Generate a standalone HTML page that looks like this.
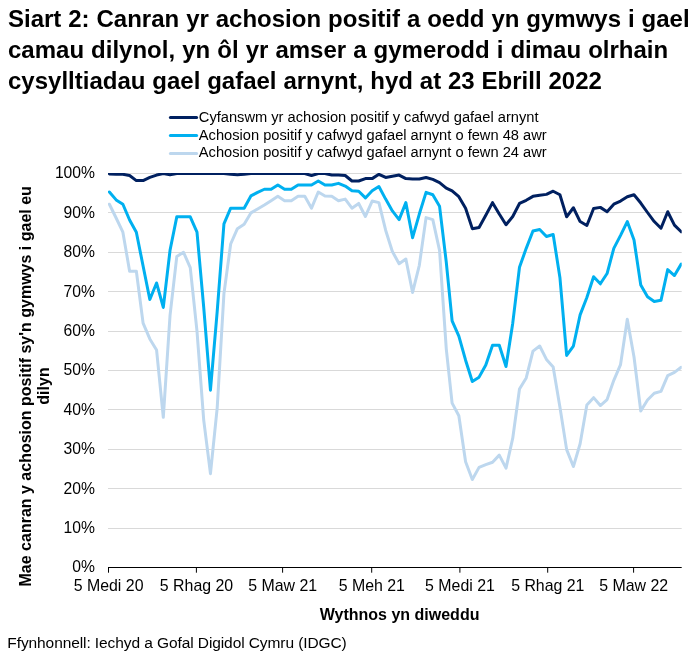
<!DOCTYPE html>
<html><head><meta charset="utf-8"><title>Siart 2</title>
<style>
html,body{margin:0;padding:0;background:#fff}
body{width:699px;height:660px;overflow:hidden;position:relative;font-family:"Liberation Sans",sans-serif;color:#000}
svg{position:absolute;left:0;top:0}
text{font-family:"Liberation Sans",sans-serif;fill:#000}
.t{font-size:24px;font-weight:bold}
.ax{font-size:15.7px}
.lg{font-size:14.67px}
.b{font-size:16px;font-weight:bold}
.src{font-size:15.5px;letter-spacing:-0.09px}
</style></head><body>
<svg width="699" height="660" viewBox="0 0 699 660">
<defs><clipPath id="c"><rect x="108" y="173" width="573.7" height="400"/></clipPath></defs>
<text x="8" y="26.6" class="t" style="word-spacing:0.25px">Siart 2: Canran yr achosion positif a oedd yn gymwys i gael</text>
<text x="8" y="57.6" class="t" style="word-spacing:0.4px">camau dilynol, yn ôl yr amser a gymerodd i dimau olrhain</text>
<text x="8" y="88.6" class="t" style="word-spacing:0.2px">cysylltiadau gael gafael arnynt, hyd at 23 Ebrill 2022</text>
<line x1="170.4" x2="196.6" y1="117.5" y2="117.5" stroke="#002060" stroke-width="3" stroke-linecap="round"/>
<line x1="170.4" x2="196.6" y1="135.5" y2="135.5" stroke="#00b0f0" stroke-width="3" stroke-linecap="round"/>
<line x1="170.4" x2="196.6" y1="153.4" y2="153.4" stroke="#bdd7ee" stroke-width="3" stroke-linecap="round"/>
<text x="198.8" y="121.5" class="lg">Cyfanswm yr achosion positif y cafwyd gafael arnynt</text>
<text x="198.8" y="139.8" class="lg">Achosion positif y cafwyd gafael arnynt o fewn 48 awr</text>
<text x="198.8" y="156.5" class="lg">Achosion positif y cafwyd gafael arnynt o fewn 24 awr</text>
<line x1="108" x2="681.7" y1="528.5" y2="528.5" stroke="#d9d9d9" stroke-width="1"/><line x1="108" x2="681.7" y1="488.5" y2="488.5" stroke="#d9d9d9" stroke-width="1"/><line x1="108" x2="681.7" y1="449.5" y2="449.5" stroke="#d9d9d9" stroke-width="1"/><line x1="108" x2="681.7" y1="409.5" y2="409.5" stroke="#d9d9d9" stroke-width="1"/><line x1="108" x2="681.7" y1="370.5" y2="370.5" stroke="#d9d9d9" stroke-width="1"/><line x1="108" x2="681.7" y1="331.5" y2="331.5" stroke="#d9d9d9" stroke-width="1"/><line x1="108" x2="681.7" y1="291.5" y2="291.5" stroke="#d9d9d9" stroke-width="1"/><line x1="108" x2="681.7" y1="252.5" y2="252.5" stroke="#d9d9d9" stroke-width="1"/><line x1="108" x2="681.7" y1="212.5" y2="212.5" stroke="#d9d9d9" stroke-width="1"/><line x1="108" x2="681.7" y1="173.5" y2="173.5" stroke="#d9d9d9" stroke-width="1"/>
<g clip-path="url(#c)" fill="none" stroke-width="3" stroke-linejoin="round" stroke-linecap="round">
<polyline stroke="#bdd7ee" points="109.40,204.22 116.14,218.01 122.88,232.19 129.61,271.19 136.35,271.19 143.09,323.18 149.83,338.94 156.56,349.97 163.30,417.32 170.04,315.30 176.78,256.61 183.51,252.28 190.25,267.64 196.99,331.06 203.72,420.08 210.46,473.65 217.20,407.87 223.94,293.64 230.67,244.01 237.41,228.65 244.15,224.31 250.89,212.89 257.62,208.95 264.36,205.01 271.10,200.68 277.84,196.35 284.57,200.68 291.31,200.68 298.05,196.35 304.79,196.35 311.52,208.16 318.26,192.01 325.00,195.95 331.74,196.35 338.47,200.68 345.21,199.10 351.95,208.16 358.69,203.44 365.42,216.44 372.16,201.07 378.90,202.65 385.64,230.22 392.37,251.49 399.11,263.70 405.85,258.98 412.59,292.46 419.32,265.28 426.06,217.62 432.80,219.59 439.54,250.31 446.27,348.79 452.11,403.14 458.85,415.75 465.59,461.83 472.32,479.56 479.06,467.35 485.80,464.59 492.54,462.23 499.27,455.14 506.01,468.14 512.75,438.20 519.49,388.96 526.22,377.93 532.96,351.15 539.70,346.03 546.44,359.42 553.17,366.90 559.91,407.08 566.65,449.62 573.39,466.56 580.12,443.72 586.86,405.11 593.60,397.63 600.34,405.51 607.08,399.60 613.81,380.30 620.55,364.54 627.29,319.24 634.02,357.06 640.76,411.02 647.50,399.99 654.24,393.30 660.98,391.33 667.71,375.57 674.45,372.42 681.19,367.30"/>
<polyline stroke="#00b0f0" points="109.40,192.01 116.14,199.89 122.88,204.22 129.61,219.98 136.35,232.19 143.09,266.07 149.83,299.55 156.56,283.00 163.30,307.43 170.04,250.31 176.78,216.83 183.51,216.83 190.25,216.83 196.99,232.19 203.72,307.43 210.46,390.14 217.20,311.36 223.94,223.92 230.67,208.16 237.41,208.16 244.15,208.16 250.89,195.95 257.62,192.41 264.36,189.26 271.10,189.26 277.84,184.92 284.57,189.26 291.31,189.26 298.05,184.92 304.79,184.92 311.52,184.92 318.26,180.98 325.00,184.92 331.74,184.92 338.47,183.35 345.21,186.10 351.95,190.83 358.69,191.23 365.42,197.92 372.16,190.83 378.90,186.50 385.64,199.10 392.37,210.92 399.11,219.59 405.85,202.65 412.59,237.71 419.32,214.07 426.06,192.41 432.80,194.77 439.54,206.19 446.27,262.13 452.11,320.82 458.85,336.18 465.59,360.21 472.32,381.48 479.06,377.15 485.80,364.94 492.54,345.24 499.27,345.24 506.01,366.51 512.75,323.18 519.49,267.25 526.22,248.34 532.96,231.01 539.70,229.43 546.44,236.52 553.17,234.55 559.91,277.49 566.65,355.48 573.39,346.03 580.12,314.91 586.86,297.58 593.60,276.70 600.34,283.79 607.08,273.55 613.81,248.34 620.55,235.34 627.29,221.56 634.02,240.07 640.76,284.97 647.50,296.79 654.24,301.52 660.98,300.34 667.71,269.61 674.45,275.52 681.19,264.10"/>
<polyline stroke="#002060" points="109.40,173.89 116.14,174.29 122.88,174.29 129.61,175.47 136.35,180.59 143.09,180.59 149.83,177.44 156.56,175.08 163.30,173.50 170.04,174.68 176.78,173.50 183.51,173.50 190.25,173.50 196.99,173.50 203.72,173.50 210.46,173.50 217.20,173.50 223.94,173.50 230.67,174.29 237.41,174.68 244.15,174.29 250.89,173.50 257.62,173.50 264.36,173.50 271.10,173.50 277.84,173.50 284.57,173.50 291.31,173.50 298.05,173.50 304.79,173.50 311.52,175.47 318.26,173.50 325.00,173.50 331.74,175.08 338.47,175.08 345.21,175.47 351.95,180.98 358.69,180.98 365.42,178.62 372.16,178.62 378.90,174.29 385.64,177.44 392.37,176.26 399.11,175.08 405.85,178.62 412.59,179.01 419.32,179.01 426.06,177.44 432.80,179.41 439.54,182.56 446.27,188.07 452.11,190.83 458.85,196.74 465.59,208.16 472.32,228.65 479.06,227.46 485.80,215.25 492.54,202.65 499.27,214.07 506.01,224.71 512.75,216.44 519.49,203.44 526.22,200.29 532.96,196.35 539.70,195.16 546.44,194.38 553.17,191.23 559.91,194.77 566.65,216.83 573.39,207.77 580.12,221.56 586.86,225.49 593.60,208.56 600.34,207.38 607.08,211.71 613.81,204.22 620.55,201.07 627.29,196.74 634.02,194.77 640.76,203.04 647.50,212.50 654.24,221.56 660.98,228.25 667.71,211.71 674.45,225.10 681.19,231.80"/>
</g>
<line x1="108" x2="681.7" y1="567.5" y2="567.5" stroke="#000" stroke-width="1.1"/>
<line x1="108.5" x2="108.5" y1="567.4" y2="572.7" stroke="#000" stroke-width="1"/><line x1="196.4" x2="196.4" y1="567.4" y2="572.7" stroke="#000" stroke-width="1"/><line x1="282.6" x2="282.6" y1="567.4" y2="572.7" stroke="#000" stroke-width="1"/><line x1="371.7" x2="371.7" y1="567.4" y2="572.7" stroke="#000" stroke-width="1"/><line x1="459.9" x2="459.9" y1="567.4" y2="572.7" stroke="#000" stroke-width="1"/><line x1="547.7" x2="547.7" y1="567.4" y2="572.7" stroke="#000" stroke-width="1"/><line x1="633.6" x2="633.6" y1="567.4" y2="572.7" stroke="#000" stroke-width="1"/>
<text x="95" y="572.30" text-anchor="end" class="ax">0%</text><text x="95" y="532.91" text-anchor="end" class="ax">10%</text><text x="95" y="493.52" text-anchor="end" class="ax">20%</text><text x="95" y="454.13" text-anchor="end" class="ax">30%</text><text x="95" y="414.74" text-anchor="end" class="ax">40%</text><text x="95" y="375.35" text-anchor="end" class="ax">50%</text><text x="95" y="335.96" text-anchor="end" class="ax">60%</text><text x="95" y="296.57" text-anchor="end" class="ax">70%</text><text x="95" y="257.18" text-anchor="end" class="ax">80%</text><text x="95" y="217.79" text-anchor="end" class="ax">90%</text><text x="95" y="178.40" text-anchor="end" class="ax">100%</text>
<text x="108.6" y="590.7" text-anchor="middle" class="ax" style="font-size:15.9px">5 Medi 20</text><text x="196.5" y="590.7" text-anchor="middle" class="ax" style="font-size:15.9px">5 Rhag 20</text><text x="282.70000000000005" y="590.7" text-anchor="middle" class="ax" style="font-size:15.9px">5 Maw 21</text><text x="371.8" y="590.7" text-anchor="middle" class="ax" style="font-size:15.9px">5 Meh 21</text><text x="460.0" y="590.7" text-anchor="middle" class="ax" style="font-size:15.9px">5 Medi 21</text><text x="547.8000000000001" y="590.7" text-anchor="middle" class="ax" style="font-size:15.9px">5 Rhag 21</text><text x="633.7" y="590.7" text-anchor="middle" class="ax" style="font-size:15.9px">5 Maw 22</text>
<text x="399.6" y="619.6" text-anchor="middle" class="b">Wythnos yn diweddu</text>
<text transform="translate(30.9,386.3) rotate(-90)" text-anchor="middle" class="b">Mae canran y achosion positif sy'n gymwys i gael eu</text>
<text transform="translate(48.6,386) rotate(-90)" text-anchor="middle" class="b">dilyn</text>
<text x="7.3" y="647.8" class="src">Ffynhonnell: Iechyd a Gofal Digidol Cymru (IDGC)</text>
</svg>
</body></html>
